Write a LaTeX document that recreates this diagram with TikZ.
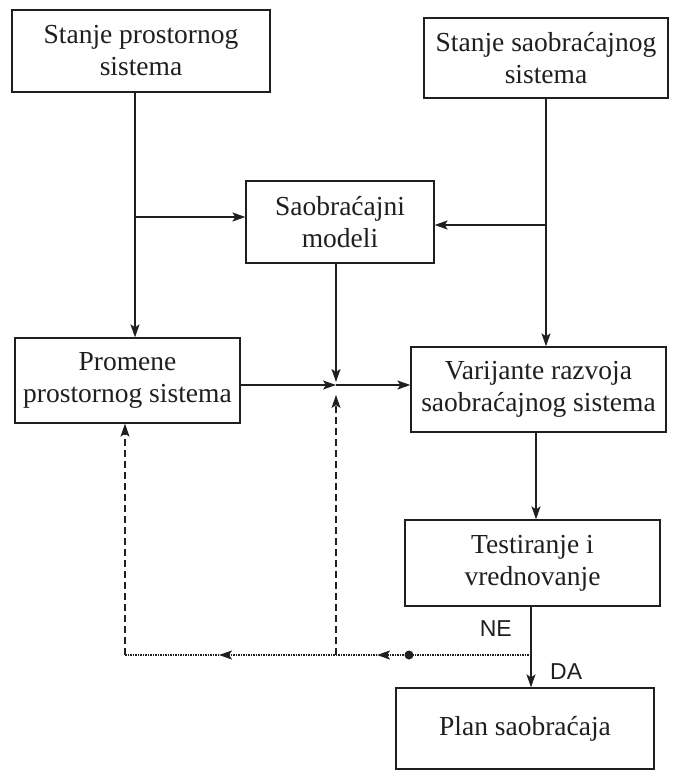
\documentclass[tikz,border=0pt]{standalone}
\usepackage{fontspec}
\setmainfont{Liberation Serif}
\newfontfamily\labelfont{Liberation Sans}
\usetikzlibrary{arrows.meta}
\definecolor{ink}{gray}{0.12}
\begin{document}
\begin{tikzpicture}[x=1pt,y=-1pt,
  box/.style={draw=ink, line width=1.3pt, rectangle, align=center, inner sep=0pt,
    font=\fontsize{27.5}{32}\selectfont, text=ink},
  arr/.style={draw=ink, line width=1.3pt, -{Stealth[length=13pt,width=9pt,inset=3pt]}},
  plain/.style={draw=ink, line width=1.3pt},
  dashline/.style={draw=ink, line width=1.1pt, dash pattern=on 7pt off 4pt},
  dotline/.style={draw=ink, line width=2pt, dash pattern=on 1.5pt off 1pt},
  dotarr/.style={dotline, -{Stealth[length=13pt,width=9pt,inset=3pt]}},
  dasharr/.style={dashline, -{Stealth[length=13pt,width=9pt,inset=3pt]}},
  lbl/.style={font=\labelfont\fontsize{23}{27}\selectfont, text=ink, inner sep=0pt}
]
\useasboundingbox (0,0) rectangle (672,771);
\fill[white] (0,0) rectangle (672,771);

% boxes
\node[box, minimum width=258pt, minimum height=82pt] (B1) at (141,51) {Stanje prostornog\\sistema};
\node[box, minimum width=244pt, minimum height=80pt] (B2) at (546,58) {Stanje saobraćajnog\\sistema};
\node[box, minimum width=188pt, minimum height=82pt] (M) at (340,222) {Saobraćajni\\modeli};
\node[box, minimum width=225pt, minimum height=85pt] (P) at (127.5,380.5) {Promene\\prostornog sistema};
\node[box, minimum width=255pt, minimum height=85pt] (V) at (538.5,389.5) {Varijante razvoja\\saobraćajnog sistema};
\node[box, minimum width=255pt, minimum height=86pt] (T) at (532.5,563) {Testiranje i\\vrednovanje};
\node[box, minimum width=258pt, minimum height=81pt] (PL) at (525,728.5) {Plan saobraćaja};

% junction coordinates
\coordinate (jl) at (135,217);
\coordinate (jr) at (546,225);
\coordinate (jc) at (336,385);
\coordinate (vt) at (536,0);
\coordinate (tp) at (531,0);
\coordinate (dR) at (531,655);
\coordinate (a1) at (377,655);
\coordinate (dM) at (336,655);
\coordinate (a2) at (219,655);
\coordinate (dL) at (125,655);

% left and right feeds
\draw[arr] (B1.south -| jl) -- (P.north -| jl);
\draw[arr] (jl) -- (M.west |- jl);
\draw[arr] (B2.south -| jr) -- (V.north -| jr);
\draw[arr] (jr) -- (M.east |- jr);

% into junction
\draw[arr, shorten >=3pt] (M.south -| jc) -- (jc);
\draw[arr] (P.east |- jc) -- (jc);
\draw[arr] (jc) -- (V.west |- jc);

% down the right side
\draw[arr] (V.south -| vt) -- (T.north -| vt);
\draw[arr] (T.south -| tp) -- (PL.north -| tp);
\node[lbl, anchor=east] (ne) at (512,629) {NE};
\node[lbl, anchor=west] (da) at (550,672) {DA};

% feedback
\draw[dotarr] (dR) -- (a1);
\draw[dotarr] (a1) -- (a2);
\draw[dotline] (a2) -- (dL);
\fill[ink] (409,655) circle (4.5pt) coordinate (dot);
\draw[dasharr] (dL) -- (P.south -| dL);
\draw[dasharr, shorten >=10pt] (dM) -- (jc);
\end{tikzpicture}
\end{document}
